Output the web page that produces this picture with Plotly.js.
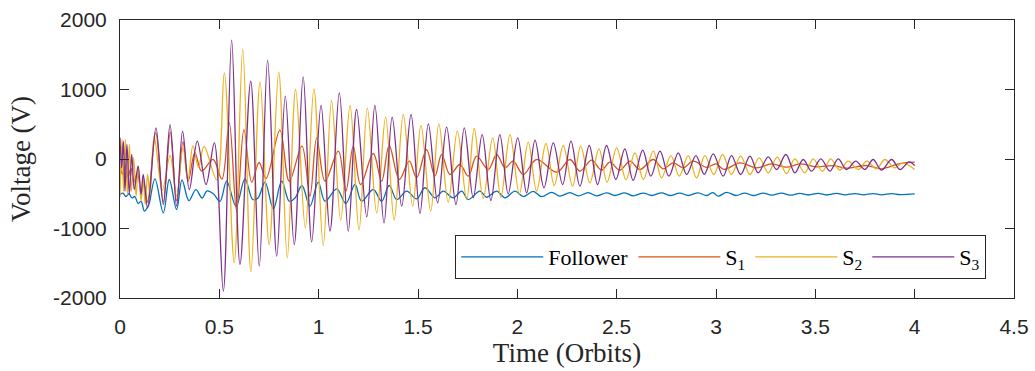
<!DOCTYPE html>
<html>
<head>
<meta charset="utf-8">
<script src="https://cdn.plot.ly/plotly-3.0.1.min.js"></script>
<style>
  html, body { margin: 0; padding: 0; background: #ffffff; }
  #chart { width: 1035px; height: 371px; }
</style>
</head>
<body>
<div id="chart"></div>
<script>
// ---- Data (extrema of each trace) ----
var followerT = [0, 0.015, 0.030, 0.045, 0.060, 0.075, 0.091, 0.106, 0.123, 0.137, 0.146, 0.176, 0.218, 0.248, 0.285, 0.312, 0.347, 0.382, 0.413, 0.438, 0.47, 0.503, 0.537, 0.584, 0.629, 0.668, 0.695, 0.730, 0.772, 0.814, 0.852, 0.881, 0.916, 0.956, 0.998, 1.032, 1.091, 1.137, 1.183, 1.216, 1.275, 1.317, 1.355, 1.393, 1.443, 1.493, 1.535, 1.585, 1.627, 1.677, 1.720, 1.753, 1.812, 1.845, 1.896, 1.938, 1.988, 2.030, 2.080, 2.122, 2.173, 2.214, 2.265, 2.307, 2.357, 2.399, 2.449, 2.491, 2.541, 2.583, 2.634, 2.676, 2.726, 2.768, 2.818, 2.860, 2.910, 2.953, 2.985, 3.011, 3.053, 3.100, 3.145, 3.187, 3.238, 3.280, 3.330, 3.372, 3.422, 3.464, 3.514, 3.557, 3.607, 3.649, 3.699, 3.741, 3.791, 3.833, 3.884, 3.926, 4.0];
var followerV = [-510, -490, -540, -500, -560, -540, -640, -610, -751, -700, -650, -285, -775, -295, -727, -300, -600, -440, -560, -460, -500, -610, -319, -680, -285, -583, -560, -333, -717, -319, -607, -560, -381, -679, -333, -607, -429, -640, -367, -607, -439, -607, -381, -583, -463, -574, -414, -558, -463, -558, -463, -583, -463, -550, -463, -558, -463, -540, -465, -540, -480, -535, -485, -530, -485, -530, -487, -525, -487, -530, -490, -525, -487, -525, -490, -525, -487, -525, -485, -535, -480, -525, -490, -525, -490, -520, -490, -520, -495, -518, -495, -518, -495, -515, -497, -515, -497, -515, -497, -512, -503];

var s1T = [0, 0.0125, 0.025, 0.040, 0.055, 0.070, 0.088, 0.106, 0.121, 0.139, 0.180, 0.218, 0.253, 0.285, 0.317, 0.343, 0.377, 0.411, 0.469, 0.513, 0.550, 0.587, 0.624, 0.663, 0.700, 0.735, 0.805, 0.852, 0.916, 0.956, 0.990, 1.032, 1.099, 1.137, 1.174, 1.211, 1.275, 1.317, 1.355, 1.406, 1.456, 1.493, 1.543, 1.585, 1.619, 1.661, 1.711, 1.753, 1.795, 1.854, 1.896, 1.938, 1.979, 2.030, 2.097, 2.198, 2.265, 2.315, 2.374, 2.424, 2.466, 2.516, 2.567, 2.617, 2.684, 2.734, 2.785, 2.835, 2.885, 2.953, 3.000, 3.040, 3.120, 3.204, 3.280, 3.355, 3.422, 3.506, 3.590, 3.657, 3.758, 3.833, 3.926, 4.0];
var s1V = [-100, -220, -80, -260, -130, -330, -200, -450, -350, -620, 380, -620, 386, -600, 250, -319, 89, -175, -7, -290, 521, -751, 424, -333, -50, -280, 415, -319, 184, -535, 305, -319, 112, -463, 184, -367, 79, -319, 194, -295, -32, -271, 137, -247, 65, -223, -79, -247, 40, -151, 65, -127, -32, -223, -7, -190, -7, -175, -17, -161, -46, -161, -32, -151, -7, -141, -55, -127, -32, -120, -70, -150, -55, -127, -70, -118, -70, -113, -95, -132, -94, -141, -65, -46];

var s2T = [0, 0.010, 0.018, 0.027, 0.037, 0.047, 0.057, 0.069, 0.081, 0.092, 0.106, 0.117, 0.127, 0.139, 0.151, 0.172, 0.213, 0.252, 0.285, 0.317, 0.342, 0.367, 0.395, 0.423, 0.487, 0.525, 0.575, 0.618, 0.659, 0.705, 0.751, 0.799, 0.842, 0.884, 0.933, 0.976, 1.023, 1.065, 1.111, 1.158, 1.203, 1.245, 1.292, 1.337, 1.380, 1.426, 1.473, 1.515, 1.564, 1.605, 1.652, 1.698, 1.745, 1.783, 1.828, 1.876, 1.917, 1.963, 2.010, 2.055, 2.097, 2.144, 2.186, 2.231, 2.278, 2.319, 2.365, 2.411, 2.452, 2.500, 2.547, 2.592, 2.634, 2.684, 2.726, 2.773, 2.815, 2.860, 2.902, 2.944, 2.989, 3.033, 3.078, 3.124, 3.171, 3.217, 3.263, 3.308, 3.355, 3.397, 3.447, 3.489, 3.536, 3.577, 3.623, 3.665, 3.716, 3.758, 3.808, 3.850, 3.900, 3.939, 4.0];
var s2V = [-550, 280, -463, 280, -511, 209, -463, 17, -535, -103, -607, -295, -655, -223, -511, 330, -450, 50, -535, 160, -300, 190, -120, 180, -300, 1240, -1490, 1585, -1623, 1105, -1230, 1249, -1422, 1000, -990, 1010, -1245, 842, -880, 770, -1024, 731, -774, 602, -880, 640, -679, 482, -751, 506, -621, 400, -583, 439, -568, 305, -550, 352, -501, 242, -463, 223, -381, 194, -391, 184, -343, 146, -333, 161, -295, 89, -295, 113, -271, 50, -247, 50, -271, 50, -223, 65, -223, 40, -223, 17, -199, 26, -209, 3, -199, 3, -175, 3, -161, -32, -151, -32, -141, -7, -127, -55, -151];

var s3T = [0, 0.008, 0.017, 0.025, 0.035, 0.047, 0.059, 0.072, 0.091, 0.106, 0.117, 0.139, 0.181, 0.218, 0.252, 0.285, 0.315, 0.349, 0.389, 0.433, 0.475, 0.520, 0.562, 0.604, 0.658, 0.701, 0.743, 0.789, 0.832, 0.877, 0.922, 0.965, 1.012, 1.057, 1.104, 1.149, 1.191, 1.242, 1.283, 1.329, 1.370, 1.418, 1.465, 1.510, 1.552, 1.599, 1.644, 1.691, 1.733, 1.778, 1.823, 1.867, 1.912, 1.954, 2.002, 2.047, 2.089, 2.134, 2.181, 2.228, 2.270, 2.315, 2.362, 2.404, 2.449, 2.496, 2.541, 2.583, 2.631, 2.672, 2.718, 2.763, 2.810, 2.852, 2.899, 2.941, 2.986, 3.036, 3.078, 3.124, 3.171, 3.212, 3.263, 3.305, 3.352, 3.397, 3.439, 3.481, 3.528, 3.573, 3.615, 3.657, 3.704, 3.749, 3.791, 3.833, 3.884, 3.926, 3.972, 4.0];
var s3V = [305, -127, 256, -463, 209, -511, 65, -439, -103, -511, -223, -703, 449, -655, 496, -679, 400, -440, 256, -367, 233, -1902, 1709, -1518, 1120, -1542, 1422, -1398, 904, -1230, 1183, -1192, 770, -1038, 952, -1038, 712, -832, 770, -918, 602, -679, 640, -784, 506, -630, 458, -655, 449, -558, 352, -597, 352, -501, 305, -486, 271, -414, 233, -367, 257, -391, 194, -367, 194, -295, 146, -305, 127, -247, 113, -247, 89, -223, 50, -220, 75, -247, 50, -223, 40, -199, 31, -151, 65, -199, -7, -175, 3, -175, 3, -151, -32, -151, -7, -161, -7, -151, -40, -94];

var seriesNames = ['Follower', 'S<sub>1</sub>', 'S<sub>2</sub>', 'S<sub>3</sub>'];
var seriesColors = ['#0072BD', '#D95319', '#EDB120', '#7E2F8E'];
var xTickVals = [0, 0.5, 1, 1.5, 2, 2.5, 3, 3.5, 4, 4.5];
var xTickText = ['0', '0.5', '1', '1.5', '2', '2.5', '3', '3.5', '4', '4.5'];
var yTickVals = [-2000, -1000, 0, 1000, 2000];
var yTickText = ['-2000', '-1000', '0', '1000', '2000'];

// ---- Build traces ----
var xs = [followerT, s1T, s2T, s3T];
var ys = [followerV, s1V, s2V, s3V];
var traces = xs.map(function (x, i) {
  return {
    type: 'scatter', mode: 'lines', x: x, y: ys[i], name: seriesNames[i],
    line: { color: seriesColors[i], width: 1.3, shape: 'spline', smoothing: 1 },
    showlegend: true, hoverinfo: 'skip'
  };
});

var W = 1035, H = 371, L = 120, R = 21, T = 20, B = 73;
var axisColor = '#262626';

var layout = {
  width: W, height: H,
  margin: { l: L, r: R, t: T, b: B, pad: 0 },
  paper_bgcolor: '#ffffff', plot_bgcolor: '#ffffff',
  showlegend: true,
  legend: {
    orientation: 'h', x: 0.375, y: 0.2266, xanchor: 'left', yanchor: 'top',
    bordercolor: axisColor, borderwidth: 1, bgcolor: '#ffffff',
    itemwidth: 82, font: { family: 'Liberation Serif, serif', size: 22, color: '#000000' }
  },
  xaxis: {
    range: [0, 4.5], tickmode: 'array', tickvals: xTickVals, ticktext: xTickText,
    ticks: 'inside', ticklen: 9, tickwidth: 1, tickcolor: axisColor,
    showline: true, linecolor: axisColor, linewidth: 1, mirror: 'ticks',
    showgrid: false, zeroline: false, ticklabelstandoff: 10,
    tickfont: { family: 'Liberation Sans, Arial, sans-serif', size: 21, color: axisColor },
    title: { text: 'Time (Orbits)', standoff: 5,
      font: { family: 'Liberation Serif, serif', size: 27, color: axisColor } }
  },
  yaxis: {
    range: [-2000, 2000], tickmode: 'array', tickvals: yTickVals, ticktext: yTickText,
    ticks: 'inside', ticklen: 9, tickwidth: 1, tickcolor: axisColor,
    showline: true, linecolor: axisColor, linewidth: 1, mirror: 'ticks',
    showgrid: false, zeroline: false, ticklabelstandoff: 8,
    tickfont: { family: 'Liberation Sans, Arial, sans-serif', size: 21, color: axisColor },
    title: { text: 'Voltage (V)', standoff: 14,
      font: { family: 'Liberation Serif, serif', size: 27, color: axisColor } }
  }
};

Plotly.newPlot('chart', traces, layout, { staticPlot: true, displayModeBar: false });
</script>
</body>
</html>
